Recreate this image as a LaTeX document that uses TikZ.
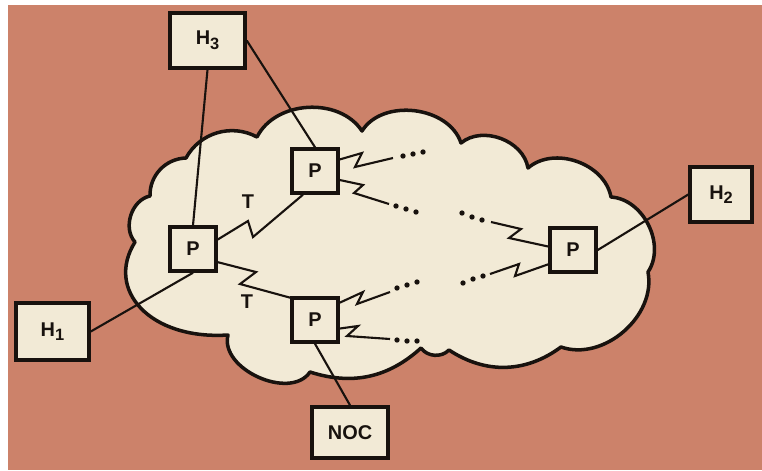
\documentclass[tikz,border=0pt]{standalone}
\usepackage{fontspec}
\setmainfont{Liberation Sans}
\usetikzlibrary{calc}
\definecolor{bgsalmon}{RGB}{204,130,106}
\definecolor{cream}{RGB}{242,234,214}
\definecolor{ink}{RGB}{24,18,14}
% host label with a lowered index
\newcommand{\hostsub}[1]{H\raisebox{-4pt}{\fontsize{14}{14}\selectfont #1}}
\begin{document}
\begin{tikzpicture}[x=0.03cm,y=-0.03cm,
  box/.style={draw=ink, fill=cream, line width=3pt, inner sep=0pt,
    font=\fontsize{17}{20}\selectfont\bfseries, text=ink},
  pbox/.style={box, minimum width=1.38cm, minimum height=1.32cm},
  link/.style={draw=ink, line width=1.8pt, line join=miter},
  lbl/.style={font=\fontsize{17}{20}\selectfont\bfseries, text=ink, inner sep=0pt}]
\useasboundingbox (0,0) rectangle (762,470);
\fill[white] (0,0) rectangle (762,470);
\fill[bgsalmon] (8,5) rectangle (762,470);

% the network cloud
\path[fill=cream, draw=ink, line width=3pt, line join=round]
  (135,242) to[bend left=60] (150,196) to[bend left=45] (186,158)
  to[bend left=45] (257,137) to[bend left=60] (362,131)
  to[bend left=65] (461,143) to[bend left=60] (528,168)
  to[bend left=60] (611,197) to[bend left=60] (648,272)
  to[bend left=60] (561,347) to[bend left=35] (449,350)
  to[bend left=50] (421,348) to[bend left=30] (310,372)
  to[bend left=80] (228,335) .. controls (150,340) and (105,290) .. (135,242) -- cycle;

% hosts, packet switches and the control centre
\node[box, minimum width=2.25cm, minimum height=1.65cm] (H3) at (207.5,40.5) {\hostsub{3}};
\node[box, minimum width=1.86cm, minimum height=1.65cm] (H2) at (721,194.5) {\hostsub{2}};
\node[box, minimum width=2.19cm, minimum height=1.71cm] (H1) at (52.5,331.5) {\hostsub{1}};
\node[box, minimum width=2.28cm, minimum height=1.53cm] (NOC) at (350,432.5) {NOC};
\node[pbox] (P1) at (193,249) {P};
\node[pbox] (P2) at (315,171) {P};
\node[pbox] (P3) at (315,320) {P};
\node[pbox] (P4) at (573,250) {P};

% host access lines
\draw[link] (H3.south) -- (P1.north);
\draw[link] (H3.east) -- (P2.north);
\draw[link] (H1.east) -- (P1.south);
\draw[link] (P3.south) -- (NOC.north);
\draw[link] (P4.east) -- (H2.west);

% trunk lines
\draw[link] (P1.21) -- (248,221) -- (253,237) -- (P2.243);
\draw[link] (P1.-28) -- (256,272) -- (240,284) -- (P3.138);
\node[lbl] (T1) at (248,202) {T};
\node[lbl] (T2) at (247,302) {T};

% trunks leading on through the net
\draw[link] (P2.25) -- (362,153) -- (355,167) -- (393,158);
\draw[link] (P2.-20) -- (363,185) -- (354,193) -- (389,204);
\draw[link] (P3.35) -- (363,292) -- (357,304) -- (390,292);
\draw[link] (P3.-19) -- (358,326) -- (347,336) -- (390,339);
\draw[link] (491,222) -- (521,229) -- (509,238) -- (P4.172);
\draw[link] (490,274) -- (519,264) -- (515,276) -- (P4.210);

% continuation dots
\foreach \p in {(403,156),(413,154),(423,152),
                (396,206),(406,209),(416,212),
                (397,288),(407,285),(417,282),
                (397,340),(407,341),(417,341),
                (462,213),(472,217),(482,220),
                (463,283),(473,279),(483,276)}
  \fill[ink] \p circle (0.08cm);
\end{tikzpicture}
\end{document}
